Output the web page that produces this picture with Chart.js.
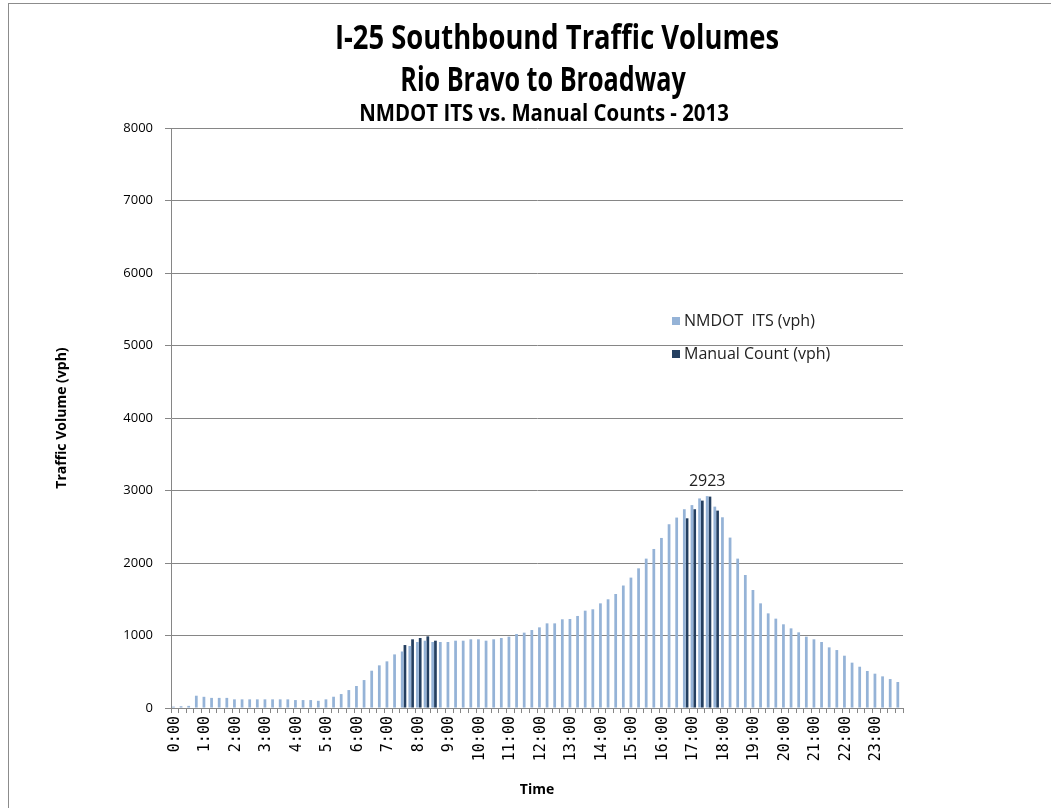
<!DOCTYPE html>
<html lang="en">
<head>
  <meta charset="UTF-8">
  <title>I-25 Southbound Traffic Volumes</title>
  <script src="https://cdn.jsdelivr.net/npm/chart.js"></script>
  <style>
    body { margin: 0; background: #fff; }
    #frame {
      position: absolute; left: 8px; top: 3px;
      width: 1060px; height: 820px;
      border: 1px solid #8c8c8c;
    }
    #myChart { position: absolute; left: 0; top: 0; }
  </style>
</head>
<body>
<div id="frame"></div>
<canvas id="myChart" width="1051" height="808"></canvas>

<script>
// 15 perces idősávok, 0:00 - 23:45
const times = [];
for (let h = 0; h < 24; h++) {
  for (let m = 0; m < 60; m += 15) {
    times.push(h + ':' + (m < 10 ? '0' + m : m));
  }
}

// NMDOT ITS (vph)
const itsValues = [
  20, 25, 30, 170, 155, 140, 140, 140, 120, 120, 120, 120, 120, 120, 120, 120,
  110, 110, 110, 100, 120, 156, 193, 248, 304, 386, 515, 589, 644, 740, 780, 856,
  911, 929, 911, 911, 911, 929, 929, 948, 948, 929, 948, 966, 984, 1021, 1040, 1076,
  1113, 1168, 1168, 1224, 1228, 1270, 1343, 1362, 1444, 1500, 1573, 1690, 1799, 1927, 2061, 2194,
  2346, 2535, 2627, 2742, 2799, 2891, 2923, 2778, 2631, 2351, 2061, 1835, 1628, 1444, 1306, 1233,
  1155, 1099, 1044, 984, 948, 911, 837, 800, 722, 626, 570, 511, 474, 437, 400, 359
];

// Manual Count (vph) - csak 7:30-8:30 és 16:45-17:45
const manualValues = new Array(96).fill(null);
const manualAM = [869, 948, 966, 989, 929];      // 7:30 ...
const manualPM = [2617, 2742, 2861, 2916, 2723]; // 16:45 ...
manualAM.forEach((v, i) => manualValues[30 + i] = v);
manualPM.forEach((v, i) => manualValues[67 + i] = v);

const yTicks = [0, 1000, 2000, 3000, 4000, 5000, 6000, 7000, 8000];
const peakIndex = 70; // 2923 felirat

const titleLines = [
  { text: 'I-25 Southbound Traffic Volumes', size: 34, sx: 0.805, x: 557, y: 49 },
  { text: 'Rio Bravo to Broadway', size: 34, sx: 0.74, x: 543, y: 91 },
  { text: 'NMDOT ITS vs. Manual Counts - 2013', size: 24, sx: 0.85, x: 544, y: 121 }
];

const lightBlue = '#95B3D7';
const darkBlue = '#243F60';
const gridGray = '#868686';
const sans = "'Open Sans', 'DejaVu Sans', sans-serif";

// cím, jelmagyarázat a rajzterületen belül + csúcsérték felirat
const extras = {
  id: 'extras',
  afterDatasetsDraw(chart) {
    const ctx = chart.ctx;
    ctx.save();

    // Excel-szerű keskeny, magas betűk
    ctx.fillStyle = '#000';
    ctx.textAlign = 'center';
    ctx.textBaseline = 'alphabetic';
    titleLines.forEach(t => {
      ctx.save();
      ctx.translate(t.x, t.y);
      ctx.scale(t.sx, 1);
      ctx.font = 'bold ' + t.size + 'px ' + sans;
      ctx.fillText(t.text, 0, 0);
      ctx.restore();
    });

    ctx.font = '16px ' + sans;
    ctx.textBaseline = 'middle';
    ctx.textAlign = 'left';
    const items = [
      { text: 'NMDOT  ITS (vph)', color: lightBlue, y: 321 },
      { text: 'Manual Count (vph)', color: darkBlue, y: 354 }
    ];
    items.forEach(it => {
      ctx.fillStyle = it.color;
      ctx.fillRect(672, it.y - 4, 8, 8);
      ctx.fillStyle = '#222';
      ctx.fillText(it.text, 684, it.y);
    });

    const bar = chart.getDatasetMeta(0).data[peakIndex];
    ctx.textAlign = 'center';
    ctx.textBaseline = 'bottom';
    ctx.fillStyle = '#222';
    ctx.fillText(String(itsValues[peakIndex]), bar.x, bar.y - 7);
    ctx.restore();
  }
};

const ctx = document.getElementById('myChart').getContext('2d');
const chart = new Chart(ctx, {
  type: 'bar',
  data: {
    labels: times,
    datasets: [{
      label: 'NMDOT  ITS (vph)',
      data: itsValues,
      backgroundColor: lightBlue,
      categoryPercentage: 0.72,
      barPercentage: 1.0
    }, {
      label: 'Manual Count (vph)',
      data: manualValues,
      backgroundColor: darkBlue,
      categoryPercentage: 0.72,
      barPercentage: 1.0
    }]
  },
  options: {
    responsive: false,
    animation: false,
    layout: { padding: { left: 50, right: 148, top: 128, bottom: 10 } },
    plugins: {
      legend: { display: false },
      tooltip: { enabled: false }
    },
    scales: {
      x: {
        grid: { display: true, drawOnChartArea: false, drawTicks: true, tickLength: 5, color: gridGray, offset: true },
        border: { color: gridGray },
        ticks: {
          autoSkip: false,
          maxRotation: 90,
          minRotation: 90,
          color: '#000',
          font: { family: "'DejaVu Sans Mono', monospace", size: 15 },
          callback: (v, i) => (i % 4 === 0 ? times[i] : '')
        },
        title: {
          display: true,
          text: 'Time',
          color: '#000',
          font: { family: sans, size: 14, weight: 'bold' },
          padding: { top: 17, bottom: 0 }
        }
      },
      y: {
        min: yTicks[0],
        max: yTicks[yTicks.length - 1],
        afterBuildTicks: scale => { scale.ticks = yTicks.map(v => ({ value: v })); },
        afterFit: scale => { scale.width = 121; },
        grid: { color: gridGray, tickLength: 6 },
        border: { color: gridGray },
        ticks: {
          color: '#000',
          font: { family: sans, size: 13 },
          padding: 12,
          callback: v => String(v)
        },
        title: {
          display: true,
          text: 'Traffic Volume (vph)',
          color: '#000',
          font: { family: sans, size: 14, weight: 'bold' },
          padding: { top: 4, bottom: 10 }
        }
      }
    }
  },
  plugins: [extras]
});
</script>
</body>
</html>
